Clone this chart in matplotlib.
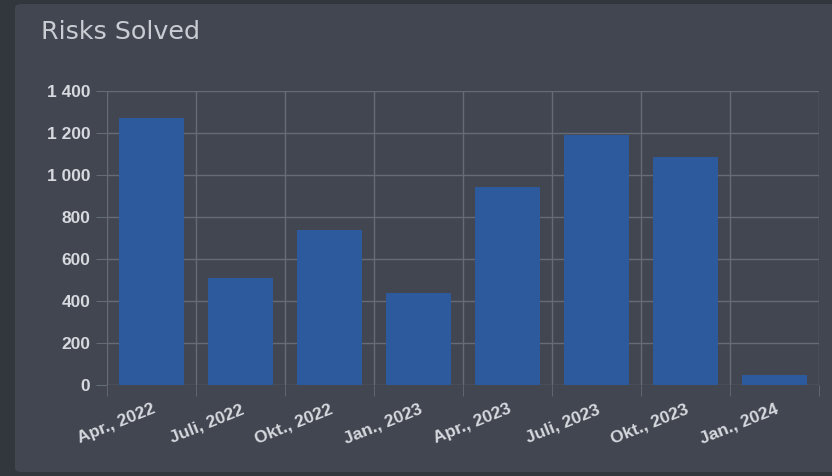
import matplotlib.pyplot as plt
from matplotlib.patches import FancyBboxPatch
from matplotlib.ticker import FuncFormatter, FixedLocator
import numpy as np

# quarterly solved risks
quarters = ["Apr., 2022", "Juli, 2022", "Okt., 2022", "Jan., 2023",
            "Apr., 2023", "Juli, 2023", "Okt., 2023", "Jan., 2024"]
solved = [1270, 510, 740, 440, 945, 1190, 1088, 50]

bg_outer = "#32373e"
bg_panel = "#414650"
bar_col = "#2c5a9c"
grid_col = "#656c77"
txt_col = "#d6d9de"

fig = plt.figure(figsize=(8.32, 4.76), dpi=100)
fig.patch.set_facecolor(bg_outer)

# card panel
panel = FancyBboxPatch((15 / 832, 4 / 476), 830 / 832, 468 / 476,
                       boxstyle="round,pad=0,rounding_size=0.008",
                       transform=fig.transFigure, facecolor=bg_panel,
                       edgecolor="none", zorder=-5)
fig.patches.append(panel)

fig.text(41 / 832, 1 - 32 / 476, "Risks Solved", color="#c9cdd3",
         fontsize=18.3, family="DejaVu Sans", va="center", ha="left")

ax = fig.add_axes([107 / 832, 1 - 385 / 476, 712 / 832, 294 / 476])
ax.set_facecolor("none")
ax.set_zorder(2)

x = np.arange(len(quarters))
ax.bar(x, solved, width=0.72, color=bar_col, zorder=2)

ax.set_xlim(-0.5, len(quarters) - 0.5)
ax.set_ylim(0, 1400)
ax.set_yticks(np.arange(0, 1401, 200))
ax.yaxis.set_major_formatter(FuncFormatter(lambda v, p: f"{int(v):,}".replace(",", " ")))

ax.set_xticks(x)
ax.set_xticklabels(quarters, rotation=22, ha="right", rotation_mode="anchor")
ax.xaxis.set_minor_locator(FixedLocator(np.arange(-0.5, len(quarters), 1)))

ax.grid(axis="y", which="major", color=grid_col, linewidth=1, zorder=1)
ax.grid(axis="x", which="minor", color=grid_col, linewidth=1, zorder=1)
ax.grid(axis="x", which="major", visible=False)

for s in ax.spines.values():
    s.set_visible(False)

ax.tick_params(axis="y", length=8, color=grid_col, labelcolor=txt_col,
               labelsize=12.5, pad=4)
ax.tick_params(axis="x", which="major", length=0, labelcolor=txt_col,
               labelsize=12.5, pad=12)
ax.tick_params(axis="x", which="minor", length=8, color=grid_col)
for lab in ax.get_xticklabels() + ax.get_yticklabels():
    lab.set_family("Liberation Sans")
    lab.set_fontweight("bold")

fig.savefig("out.png", dpi=100, facecolor=fig.get_facecolor())
